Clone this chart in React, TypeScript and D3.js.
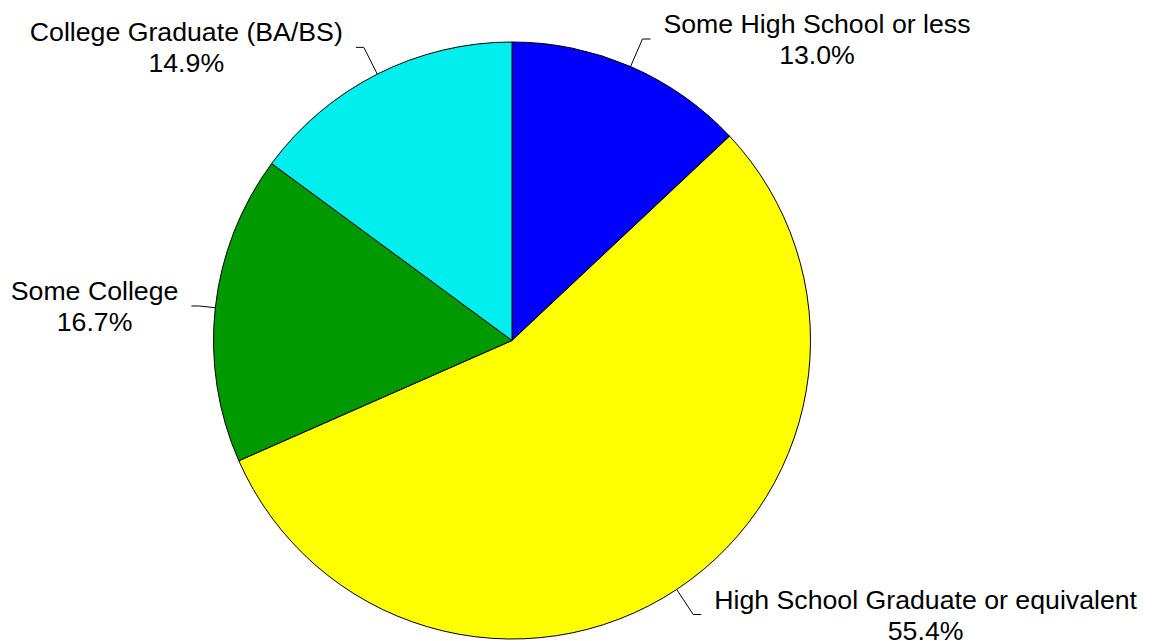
import React from "react";
import * as d3 from "d3";

const categories = [
  "Some High School or less",
  "High School Graduate or equivalent",
  "Some College",
  "College Graduate (BA/BS)",
];
const values = [13.0, 55.4, 16.7, 14.9];
const colors = ["#0000FF", "#FFFF00", "#009900", "#00EEEE"];
const leaderLengths = [30, 30, 16, 30];

const W = 1157;
const H = 641;
const CX = 512;
const CY = 340.5;
const R = 298.5;
const FONT_SIZE = 26.7;
const LINE_H = 31;
const FONT = "'Liberation Sans', Arial, Helvetica, sans-serif";

function measure(text: string): number {
  const c = document.createElement("canvas");
  const ctx = c.getContext("2d");
  if (!ctx) return text.length * FONT_SIZE * 0.5;
  ctx.font = `${FONT_SIZE}px ${FONT}`;
  return ctx.measureText(text).width;
}

export default function App() {
  const data = categories.map((c, i) => ({ name: c, value: values[i], color: colors[i], ext: leaderLengths[i] }));
  const pie = d3.pie<any>().sort(null).value((d: any) => d.value);
  const arcs = pie(data);
  const arc = d3.arc<any>().innerRadius(0).outerRadius(R);

  const elbow = 8;
  const gap = 13;

  return (
    <svg
      width={W}
      height={H}
      style={{ position: "absolute", left: 0, top: 0, background: "#fff" }}
      fontFamily={FONT}
    >
      <g transform={`translate(${CX},${CY})`}>
        {arcs.map((a: any, i: number) => (
          <path key={i} d={arc(a) as string} fill={a.data.color} stroke="#000" strokeWidth={1} />
        ))}
      </g>
      {arcs.map((a: any, i: number) => {
        const mid = (a.startAngle + a.endAngle) / 2;
        const sx = Math.sin(mid);
        const cy = -Math.cos(mid);
        const ext = a.data.ext;
        const p0 = [CX + R * sx, CY + R * cy];
        const p1 = [CX + (R + ext) * sx, CY + (R + ext) * cy];
        const right = sx >= 0;
        const p2 = [p1[0] + (right ? elbow : -elbow), p1[1]];
        const line1 = a.data.name;
        const line2 = `${a.data.value.toFixed(1)}%`;
        const w = Math.max(measure(line1), measure(line2));
        const tx = right ? p2[0] + gap + w / 2 : p2[0] - gap - w / 2;
        const b1 = p2[1] - (LINE_H - 0.716 * FONT_SIZE) / 2;
        return (
          <g key={i}>
            <polyline
              points={`${p0[0]},${p0[1]} ${p1[0]},${p1[1]} ${p2[0]},${p2[1]}`}
              fill="none"
              stroke="#000"
              strokeWidth={1}
            />
            <text x={tx} y={b1} textAnchor="middle" fontSize={FONT_SIZE} fill="#000">
              {line1}
            </text>
            <text x={tx} y={b1 + LINE_H} textAnchor="middle" fontSize={FONT_SIZE} fill="#000">
              {line2}
            </text>
          </g>
        );
      })}
    </svg>
  );
}
